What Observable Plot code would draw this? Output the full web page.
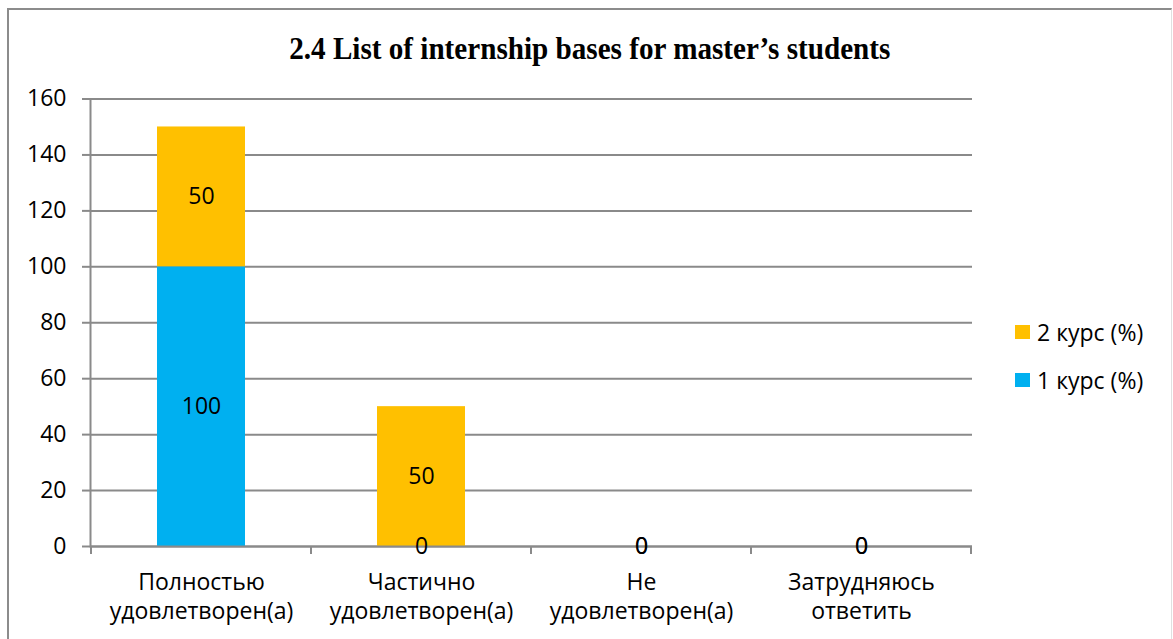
<!DOCTYPE html>
<html>
<head>
<meta charset="utf-8">
<script src="https://cdn.jsdelivr.net/npm/d3@7"></script>
<script src="https://cdn.jsdelivr.net/npm/@observablehq/plot@0.6"></script>
<style>
  html, body { margin: 0; padding: 0; background: #fff; }
  #wrap { position: relative; width: 1173px; height: 639px; overflow: hidden; font-family: "Open Sans", sans-serif; }
  #frame { position: absolute; left: 7px; top: 8px; width: 1162px; height: 700px;
           border-top: 2px solid #8c8c8c; border-left: 2px solid #8c8c8c; border-right: 1px solid #e0e0e0; }
  #title { position: absolute; left: 0; width: 1180px; top: 31px; text-align: center;
           font-family: "Liberation Serif", "Times New Roman", serif; font-weight: bold; font-size: 31px;
           color: #000; white-space: nowrap; }
  #title span { display: inline-block; transform: scaleX(0.94); transform-origin: center; }
  #chart { position: absolute; left: 0; top: 0; }
  #legend { position: absolute; left: 1015px; top: 315px; font-size: 23px; color: #000; }
  .lg { display: flex; align-items: center; height: 34px; margin-bottom: 14px; white-space: nowrap; }
  .sw { width: 15px; height: 14px; margin-right: 7px; }
</style>
</head>
<body>
<div id="wrap">
  <div id="frame"></div>
  <div id="title"><span>2.4 List of internship bases for master’s students</span></div>
  <div id="chart"></div>
  <div id="legend"></div>
</div>
<script>
const categories = ["Полностью удовлетворен(а)", "Частично удовлетворен(а)", "Не удовлетворен(а)", "Затрудняюсь ответить"];
const tickLabels = ["Полностью\nудовлетворен(а)", "Частично\nудовлетворен(а)", "Не\nудовлетворен(а)", "Затрудняюсь\nответить"];
const seriesNames = ["1 курс (%)", "2 курс (%)"];
const course1 = [100, 0, 0, 0];
const course2 = [50, 50, 0, 0];
const seriesColors = ["#00B0F0", "#FFC000"];
const yTicks = [0, 20, 40, 60, 80, 100, 120, 140, 160];

const data = [];
categories.forEach((c, i) => {
  data.push({cat: c, series: seriesNames[0], value: course1[i]});
  data.push({cat: c, series: seriesNames[1], value: course2[i]});
});
const labelOf = new Map(categories.map((c, i) => [c, tickLabels[i]]));

const gridColor = "#8a8a8a";
const chart = Plot.plot({
  width: 1173,
  height: 639,
  marginTop: 98.5,
  marginBottom: 93,
  marginLeft: 90,
  marginRight: 201,
  style: {fontFamily: "'Open Sans', sans-serif", fontSize: "23px", background: "transparent", color: "#000"},
  x: {domain: categories, paddingInner: 0.6, paddingOuter: 0.3},
  y: {domain: [0, 160]},
  color: {domain: seriesNames, range: seriesColors},
  marks: [
    Plot.gridY({ticks: yTicks, stroke: gridColor, strokeOpacity: 1, strokeWidth: 2}),
    Plot.barY(data, {x: "cat", y: "value", fill: "series"}),
    Plot.ruleY([0], {stroke: gridColor, strokeWidth: 2}),
    Plot.frame({anchor: "left", stroke: gridColor, strokeWidth: 2}),
    Plot.axisY({ticks: yTicks, tickSize: 8, tickPadding: 16, stroke: gridColor, strokeWidth: 2, fontSize: 23, label: null}),
    Plot.axisX({tickSize: 0, tickPadding: 23, fontSize: 23, lineHeight: 1.27, tickFormat: d => labelOf.get(d), label: null}),
    Plot.text(data, Plot.stackY({x: "cat", y: "value", text: d => String(d.value), fontSize: 23, fill: "#000"}))
  ]
});
document.getElementById("chart").appendChild(chart);

// category boundary ticks on the x axis, positioned via Plot's x scale
const xs = chart.scale("x"), ys = chart.scale("y");
const half = (xs.step - xs.bandwidth) / 2;
const bounds = categories.map(c => xs.apply(c) - half).concat([xs.apply(categories[categories.length - 1]) + xs.bandwidth + half]);
const y0 = ys.apply(0);
d3.select(chart).append("g").selectAll("line").data(bounds).join("line")
  .attr("x1", d => d).attr("x2", d => d).attr("y1", y0).attr("y2", y0 + 8)
  .attr("stroke", gridColor).attr("stroke-width", 2);

// legend (top entry is 2 курс, as in the reference)
const legend = d3.select("#legend");
[1, 0].forEach(i => {
  const row = legend.append("div").attr("class", "lg");
  row.append("div").attr("class", "sw").style("background", seriesColors[i]);
  row.append("span").text(seriesNames[i]);
});
</script>
</body>
</html>
